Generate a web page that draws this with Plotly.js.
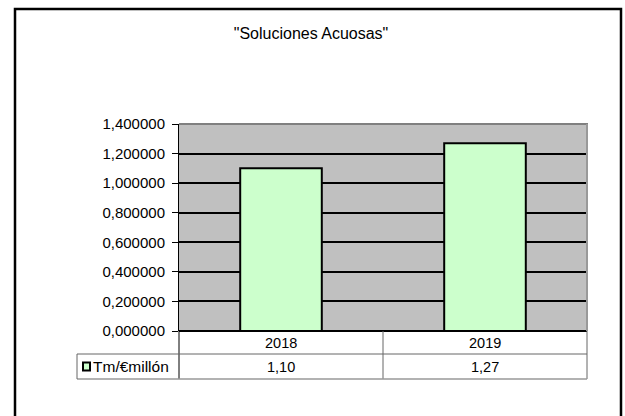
<!DOCTYPE html>
<html>
<head>
<meta charset="utf-8">
<script src="https://cdn.plot.ly/plotly-3.0.1.min.js"></script>
<style>html,body{margin:0;padding:0;background:#fff;}#chart{width:625px;height:416px;}</style>
</head>
<body>
<div id="chart"></div>
<script>
const categories = ["2018", "2019"];
const values = [1.10, 1.27];
const seriesName = "Tm/€millón";
const chartTitle = "\"Soluciones Acuosas\"";
const yTicks = [0, 0.2, 0.4, 0.6, 0.8, 1.0, 1.2, 1.4];

const W = 625, H = 416;
const L = 179, R = 587, T = 124, B = 331;
const px = x => (x - L) / (R - L);
const py = y => (B - y) / (B - T);
const FONT = "Liberation Sans, Arial, sans-serif";
const tableLine = "#666666";

const shapes = [];
function line(x0, y0, x1, y1, color, width) {
  shapes.push({type: "line", xref: "paper", yref: "paper",
    x0: px(x0), y0: py(y0), x1: px(x1), y1: py(y1),
    line: {color: color, width: width}, layer: "above"});
}
// outer chart border
shapes.push({type: "rect", xref: "paper", yref: "paper",
  x0: px(15), y0: py(9), x1: px(621), y1: py(440),
  line: {color: "#000", width: 2.5}, layer: "above"});
// plot area 3D edges (top and right)
line(L, T, R + 1, T, "#808080", 2);
line(R, T, R, B, "#999999", 2);
// data table
line(L, B, L, 379, "#000", 1);
line((L + R) / 2, B, (L + R) / 2, 379, tableLine, 1);
line(R, B, R, 379, tableLine, 1);
line(77, 354, R, 354, tableLine, 1);
line(77, 379, R, 379, "#999999", 1.5);
line(77, 354, 77, 379, tableLine, 1);
// legend key
shapes.push({type: "rect", xref: "paper", yref: "paper",
  x0: px(83), y0: py(362.5), x1: px(90), y1: py(370.5),
  fillcolor: "#CCFFCC", line: {color: "#000", width: 2}, layer: "above"});

const annotations = [];
annotations.push({xref: "paper", yref: "paper", x: px(90.5), y: py(366.5),
  xanchor: "left", yanchor: "middle", showarrow: false,
  text: seriesName, font: {family: FONT, size: 15.5, color: "#000"}});
categories.forEach((c, i) => {
  annotations.push({xref: "x", yref: "paper", x: i, y: py(342.5),
    xanchor: "center", yanchor: "middle", showarrow: false,
    text: c, font: {family: FONT, size: 14.5, color: "#000"}});
  annotations.push({xref: "x", yref: "paper", x: i, y: py(366.5),
    xanchor: "center", yanchor: "middle", showarrow: false,
    text: values[i].toFixed(2).replace(".", ","),
    font: {family: FONT, size: 14.5, color: "#000"}});
});

const trace = {
  type: "bar", x: categories, y: values, name: seriesName,
  width: 0.4,
  marker: {color: "#CCFFCC", line: {color: "#000", width: 2}},
  hoverinfo: "skip"
};

const layout = {
  width: W, height: H,
  margin: {l: L, r: W - R, t: T, b: H - B, pad: 0},
  paper_bgcolor: "#fff", plot_bgcolor: "#C0C0C0",
  separators: ",.",
  showlegend: false,
  font: {family: FONT, size: 14, color: "#000"},
  title: {text: chartTitle, x: 311 / W, xref: "container", xanchor: "center",
    y: 1 - 33 / H, yref: "container", yanchor: "middle",
    font: {family: FONT, size: 16, color: "#000"}},
  xaxis: {type: "category", range: [-0.5, 1.5], showgrid: false, zeroline: false,
    showline: false, ticks: "", showticklabels: false, fixedrange: true},
  yaxis: {range: [0, 1.4], tickvals: yTicks, tickformat: ".6f",
    showgrid: true, gridcolor: "#000", gridwidth: 2,
    zeroline: true, zerolinecolor: "#000", zerolinewidth: 2,
    showline: true, linecolor: "#000", linewidth: 1,
    ticks: "outside", ticklen: 6, tickcolor: "#000", tickwidth: 1,
    ticklabelstandoff: 4,
    tickfont: {family: FONT, size: 15, color: "#000"}, fixedrange: true},
  shapes: shapes,
  annotations: annotations
};

Plotly.newPlot("chart", [trace], layout, {staticPlot: true, displayModeBar: false});
</script>
</body>
</html>
